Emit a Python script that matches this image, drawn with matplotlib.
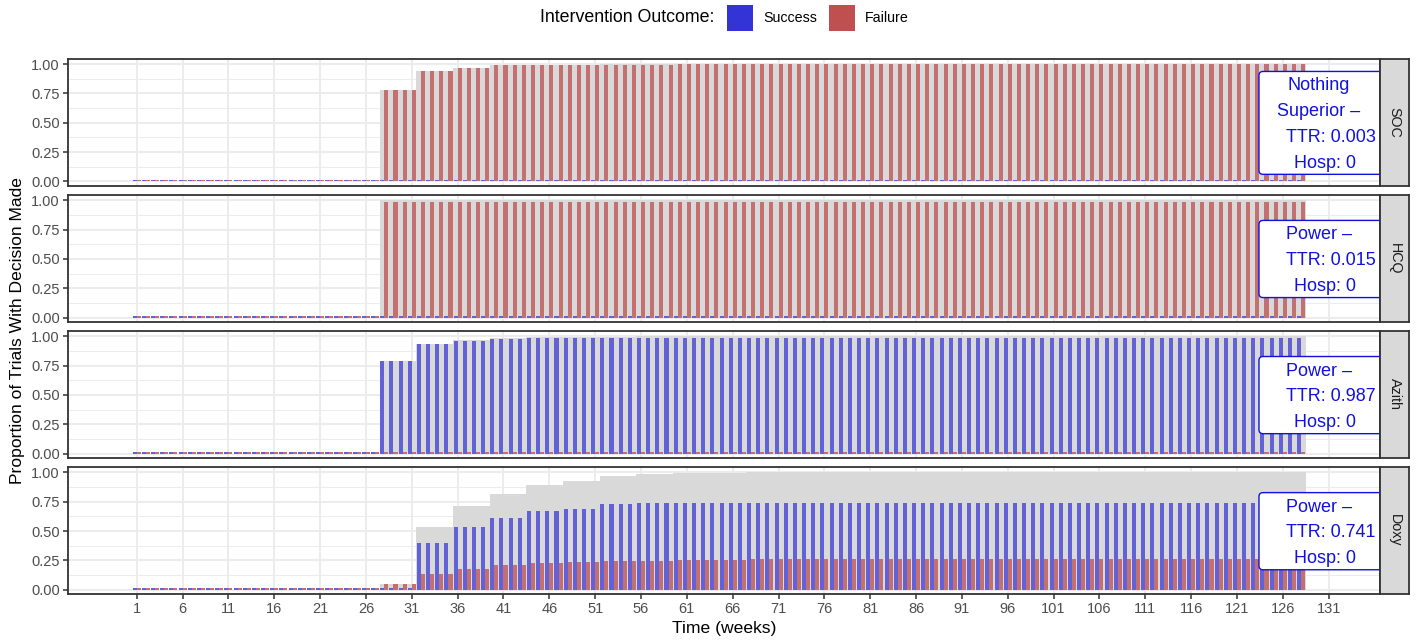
import numpy as np
import matplotlib
matplotlib.use("Agg")
import matplotlib.pyplot as plt
from matplotlib.patches import Rectangle, FancyBboxPatch

plt.rcParams['font.family'] = ['Liberation Sans', 'DejaVu Sans']

# ---------------- data ----------------
weeks = np.arange(1, 129)
first_look_week = 28
weeks_per_look = 4
arms = ['SOC', 'HCQ', 'Azith', 'Doxy']

# proportion of trials with a decision at each interim look (26 looks)
soc_success = [0.000, 0.000, 0.000, 0.001, 0.002, 0.002, 0.003, 0.003, 0.003, 0.003,
               0.003, 0.003, 0.003, 0.003, 0.003, 0.003, 0.003, 0.003, 0.003, 0.003,
               0.003, 0.003, 0.003, 0.003, 0.003, 0.003]
soc_failure = [0.780, 0.940, 0.965, 0.988, 0.990, 0.993, 0.995, 0.996, 0.997, 0.997,
               0.997, 0.997, 0.997, 0.997, 0.997, 0.997, 0.997, 0.997, 0.997, 0.997,
               0.997, 0.997, 0.997, 0.997, 0.997, 0.997]
hcq_success = [0.012, 0.014, 0.015, 0.015, 0.015, 0.015, 0.015, 0.015, 0.015, 0.015,
               0.015, 0.015, 0.015, 0.015, 0.015, 0.015, 0.015, 0.015, 0.015, 0.015,
               0.015, 0.015, 0.015, 0.015, 0.015, 0.015]
hcq_failure = [0.988, 0.986, 0.985, 0.985, 0.985, 0.985, 0.985, 0.985, 0.985, 0.985,
               0.985, 0.985, 0.985, 0.985, 0.985, 0.985, 0.985, 0.985, 0.985, 0.985,
               0.985, 0.985, 0.985, 0.985, 0.985, 0.985]
azith_success = [0.785, 0.930, 0.962, 0.978, 0.982, 0.984, 0.985, 0.986, 0.987, 0.987,
                 0.987, 0.987, 0.987, 0.987, 0.987, 0.987, 0.987, 0.987, 0.987, 0.987,
                 0.987, 0.987, 0.987, 0.987, 0.987, 0.987]
azith_failure = [0.006, 0.008, 0.009, 0.010, 0.011, 0.012, 0.012, 0.013, 0.013, 0.013,
                 0.013, 0.013, 0.013, 0.013, 0.013, 0.013, 0.013, 0.013, 0.013, 0.013,
                 0.013, 0.013, 0.013, 0.013, 0.013, 0.013]
doxy_success = [0.000, 0.400, 0.532, 0.612, 0.667, 0.690, 0.727, 0.735, 0.738, 0.740,
                0.741, 0.741, 0.741, 0.741, 0.741, 0.741, 0.741, 0.741, 0.741, 0.741,
                0.741, 0.741, 0.741, 0.741, 0.741, 0.741]
doxy_failure = [0.050, 0.138, 0.181, 0.207, 0.224, 0.233, 0.241, 0.248, 0.253, 0.256,
                0.258, 0.259, 0.259, 0.259, 0.259, 0.259, 0.259, 0.259, 0.259, 0.259,
                0.259, 0.259, 0.259, 0.259, 0.259, 0.259]

success = {'SOC': soc_success, 'HCQ': hcq_success, 'Azith': azith_success, 'Doxy': doxy_success}
failure = {'SOC': soc_failure, 'HCQ': hcq_failure, 'Azith': azith_failure, 'Doxy': doxy_failure}

label_lines = {
    'SOC': ['Nothing', 'Superior \u2013', 'TTR: 0.003', 'Hosp: 0'],
    'HCQ': ['Power \u2013', 'TTR: 0.015', 'Hosp: 0'],
    'Azith': ['Power \u2013', 'TTR: 0.987', 'Hosp: 0'],
    'Doxy': ['Power \u2013', 'TTR: 0.741', 'Hosp: 0'],
}
x_ticks = list(range(1, 132, 5))
y_ticks = [0.0, 0.25, 0.5, 0.75, 1.0]
legend_title = 'Intervention Outcome:'
legend_labels = ['Success', 'Failure']

# ---------------- style ----------------
W, H = 1419, 643
fig = plt.figure(figsize=(W / 100, H / 100), dpi=100)
fig.patch.set_facecolor('white')

GREY = '#D9D9D9'
BAR_BLUE = '#6262D6'
BAR_RED = '#C47070'
LEG_BLUE = '#3333D6'
LEG_RED = '#C05050'
LAB_BLUE = '#1010E0'
MIN_VIS = 0.012

px_left, px_right = 68, 1380
top0, pitch, ph = 59, 136.1, 126.6
strip_w = 29


def fx(px):
    return px / W


def fy(py):
    return 1 - py / H


def expand(vals):
    out = np.zeros(len(weeks))
    for i, w in enumerate(weeks):
        if w >= first_look_week:
            k = min((w - first_look_week) // weeks_per_look, len(vals) - 1)
            out[i] = vals[k]
    return out


for p, arm in enumerate(arms):
    top = top0 + p * pitch
    ax = fig.add_axes([fx(px_left), fy(top + ph), fx(px_right - px_left), ph / H])
    s = expand(success[arm])
    f = expand(failure[arm])
    tot = s + f
    ax.bar(weeks, tot, width=1.0, color=GREY, linewidth=0, zorder=2)
    ax.bar(weeks - 0.22, np.maximum(s, MIN_VIS), width=0.44, color=BAR_BLUE, linewidth=0, zorder=3)
    ax.bar(weeks + 0.22, np.maximum(f, MIN_VIS), width=0.44, color=BAR_RED, linewidth=0, zorder=3)

    ax.set_xlim(-6.5, 136.6)
    ax.set_ylim(-0.035, 1.043)
    ax.set_yticks(y_ticks)
    ax.set_yticklabels(['0.00', '0.25', '0.50', '0.75', '1.00'])
    ax.set_yticks([0.125, 0.375, 0.625, 0.875], minor=True)
    ax.set_xticks(x_ticks)
    ax.grid(True, which='major', color='#EBEBEB', linewidth=1.3, zorder=0)
    ax.grid(True, which='minor', axis='y', color='#EBEBEB', linewidth=0.65, zorder=0)
    ax.set_axisbelow(True)
    ax.tick_params(axis='both', which='major', length=3.5, width=1.1, color='#333333',
                   labelsize=10.5, labelcolor='#4D4D4D', pad=2.5)
    ax.tick_params(axis='both', which='minor', length=0)
    if p < len(arms) - 1:
        ax.tick_params(axis='x', which='major', length=0, labelbottom=False)
    for sp in ax.spines.values():
        sp.set_color('#333333')
        sp.set_linewidth(1.3)
        sp.set_zorder(10)

    # label box
    lines = label_lines[arm]
    n = len(lines)
    spacing = 0.219
    mid = 0.4465
    baselines = [mid + ((n - 1) / 2 - k) * spacing for k in range(n)]
    box_top = baselines[0] + 0.162
    box_bot = baselines[-1] - 0.057
    bx0 = 123.4
    bx1 = 140.0
    box = FancyBboxPatch((bx0, box_bot), bx1 - bx0, box_top - box_bot,
                         boxstyle='round,pad=0,rounding_size=0.45',
                         mutation_aspect=0.075,
                         facecolor='white', edgecolor=LAB_BLUE, linewidth=1.0,
                         zorder=6, clip_on=True)
    ax.add_patch(box)
    box.set_clip_path(ax.patch)
    for k, txt in enumerate(lines):
        if txt.startswith('TTR'):
            cx = 131.2
        elif txt.startswith('Hosp'):
            cx = 130.6
        else:
            cx = 129.9
        ax.text(cx, baselines[k], txt, ha='center', va='baseline', color=LAB_BLUE,
                fontsize=13, zorder=7, clip_on=True)

    # strip
    sax = fig.add_axes([fx(px_right), fy(top + ph), fx(strip_w), ph / H])
    sax.set_facecolor(GREY)
    sax.set_xticks([])
    sax.set_yticks([])
    for sp in sax.spines.values():
        sp.set_color('#333333')
        sp.set_linewidth(1.3)
    sax.text(0.5, 0.5, arm, rotation=270, ha='center', va='center', fontsize=10.3,
             color='#1A1A1A', transform=sax.transAxes)

# axis titles
fig.text(fx(18), fy(331), 'Proportion of Trials With Decision Made', rotation=90,
         ha='center', va='center', fontsize=12.6, color='black')
fig.text(fx((px_left + px_right) / 2), fy(629), 'Time (weeks)', ha='center', va='center',
         fontsize=12.6, color='black')

# legend
fig.text(fx(540), fy(18), legend_title, ha='left', va='center', fontsize=12.8, color='black')
for (kx, tx, col, lab) in [(727, 763, LEG_BLUE, legend_labels[0]), (829, 865, LEG_RED, legend_labels[1])]:
    fig.patches.append(Rectangle((fx(kx), fy(30.5)), fx(25.5), 25.5 / H, transform=fig.transFigure,
                                 facecolor=col, edgecolor='none'))
    fig.text(fx(tx), fy(18), lab, ha='left', va='center', fontsize=10.3, color='black')

fig.savefig('out.png', dpi=100)
